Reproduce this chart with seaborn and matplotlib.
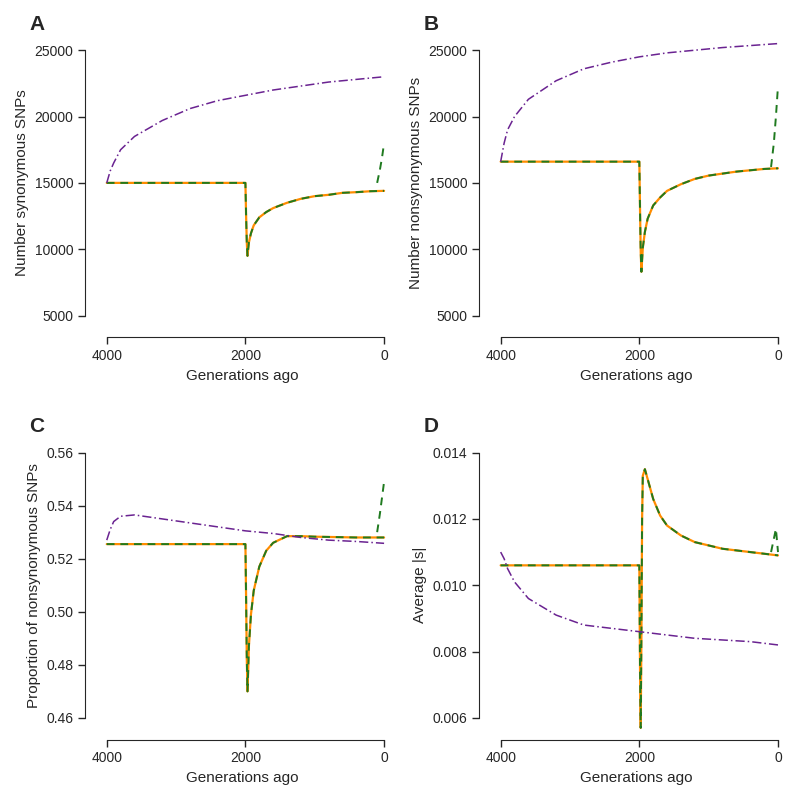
import numpy as np
import pandas as pd
import matplotlib
matplotlib.use("Agg")
import matplotlib.pyplot as plt
import seaborn as sns

# shared x grid (generations ago) for the bottleneck curves
x_bn = [4000, 2000, 1990, 1980, 1970, 1960, 1950, 1920, 1880, 1800, 1700, 1600, 1400, 1200, 1000, 800, 600, 400, 200, 0]
x_pu = [4000, 3950, 3900, 3800, 3600, 3200, 2800, 2400, 2000, 1600, 1200, 800, 400, 0]
x_end = [100, 60, 30, 0]

# A: synonymous SNPs
a_bn = [15000, 15000, 12500, 10500, 9500, 10000, 10500, 11200, 11800, 12400, 12800, 13100, 13500, 13800, 14000, 14100, 14250, 14300, 14370, 14400]
a_pu = [15000, 15900, 16500, 17500, 18500, 19700, 20600, 21200, 21600, 22000, 22300, 22600, 22800, 23000]
a_end = [15000, 16000, 16900, 18000]

# B: nonsynonymous SNPs
b_bn = [16600, 16600, 13000, 9800, 8300, 9200, 10100, 11300, 12300, 13300, 13900, 14400, 14900, 15300, 15550, 15700, 15850, 15950, 16050, 16100]
b_pu = [16600, 18000, 19000, 20000, 21300, 22700, 23600, 24100, 24500, 24800, 25000, 25200, 25350, 25500]
b_end = [16200, 18000, 20000, 22300]

# C: proportion nonsynonymous
c_bn = [0.5255, 0.5255, 0.505, 0.482, 0.470, 0.478, 0.487, 0.499, 0.508, 0.517, 0.523, 0.526, 0.5285, 0.5285, 0.5283, 0.5282, 0.5281, 0.528, 0.528, 0.528]
c_pu = [0.527, 0.531, 0.534, 0.536, 0.5365, 0.535, 0.5335, 0.532, 0.5305, 0.5295, 0.528, 0.527, 0.5265, 0.5258]
c_end = [0.530, 0.537, 0.543, 0.549]

# D: average |s|
d_bn = [0.0106, 0.0106, 0.0075, 0.0057, 0.0085, 0.0120, 0.0133, 0.0135, 0.0132, 0.0126, 0.0121, 0.0118, 0.0115, 0.0113, 0.0112, 0.0111, 0.01105, 0.0110, 0.01095, 0.0109]
d_pu = [0.0110, 0.0108, 0.0105, 0.0101, 0.0096, 0.0091, 0.0088, 0.0087, 0.0086, 0.0085, 0.0084, 0.00835, 0.0083, 0.0082]
d_end = [0.0110, 0.0114, 0.0117, 0.0110]

panels = [
    ("A", a_bn, a_pu, a_end, "Number synonymous SNPs", [5000, 10000, 15000, 20000, 25000], "%d"),
    ("B", b_bn, b_pu, b_end, "Number nonsynonymous SNPs", [5000, 10000, 15000, 20000, 25000], "%d"),
    ("C", c_bn, c_pu, c_end, "Proportion of nonsynonymous SNPs", [0.46, 0.48, 0.50, 0.52, 0.54, 0.56], "%.2f"),
    ("D", d_bn, d_pu, d_end, "Average |s|", [0.006, 0.008, 0.010, 0.012, 0.014], "%.3f"),
]

sns.set_style("white")
plt.rcParams['font.family'] = ['Liberation Sans', 'DejaVu Sans']

fig, axes = plt.subplots(2, 2, figsize=(7.97, 8), dpi=100)
orange, green, purple = "#ff8c00", "#1f7a1f", "#6a2391"

for ax, (lab, bn, pu, end, ylab, yt, fmt) in zip(axes.flat, panels):
    sns.lineplot(x=x_bn, y=bn, ax=ax, color=orange, lw=1.6, sort=False)
    sns.lineplot(x=x_bn, y=bn, ax=ax, color=green, lw=1.4, ls=(0, (4, 3)), sort=False)
    sns.lineplot(x=x_end, y=end, ax=ax, color=green, lw=1.4, ls=(0, (4, 3)), sort=False)
    sns.lineplot(x=x_pu, y=pu, ax=ax, color=purple, lw=1.1, ls=(0, (6, 2, 1, 2)), sort=False)
    ax.set_xlim(4150, -50)
    pad = (yt[-1] - yt[0]) * 0.04
    ax.set_ylim(yt[0] - pad, yt[-1] + pad)
    ax.set_xticks([4000, 2000, 0])
    ax.set_yticks(yt)
    ax.yaxis.set_major_formatter(matplotlib.ticker.FormatStrFormatter(fmt))
    for s in ["top", "right"]:
        ax.spines[s].set_visible(False)
    ax.spines["left"].set_bounds(yt[0], yt[-1])
    ax.spines["bottom"].set_bounds(4000, 0)
    ax.spines["left"].set_position(("outward", 8))
    ax.spines["bottom"].set_position(("outward", 8))
    ax.tick_params(direction="out", length=5, width=1, labelsize=10, left=True, bottom=True)
    ax.set_xlabel("Generations ago", fontsize=11)
    ax.set_ylabel(ylab, fontsize=11)
    ax.text(-0.23, 1.02, lab, transform=ax.transAxes, fontsize=15, fontweight="bold", va="bottom")

plt.tight_layout(h_pad=2.5, w_pad=1.5)
plt.savefig("out.png", dpi=100)
